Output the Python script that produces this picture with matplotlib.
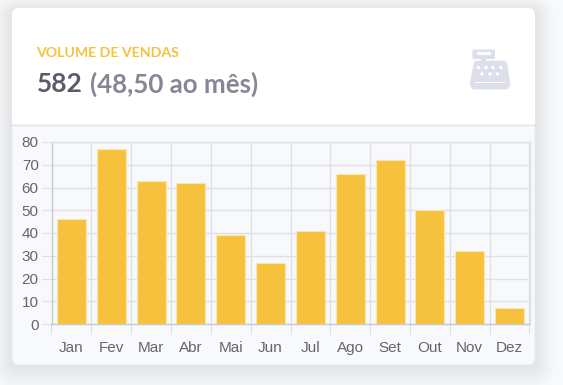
import matplotlib
matplotlib.use("Agg")
import matplotlib.pyplot as plt
from matplotlib.patches import FancyBboxPatch, Rectangle, Polygon, Circle

months = ["Jan","Fev","Mar","Abr","Mai","Jun","Jul","Ago","Set","Out","Nov","Dez"]
sales = [46,77,63,62,39,27,41,66,72,50,32,7]
y_ticks = [0,10,20,30,40,50,60,70,80]

W, H = 563, 385
fig = plt.figure(figsize=(W/100, H/100), dpi=100, facecolor="#f8f9fb")
bg = fig.add_axes([0,0,1,1], zorder=0)
bg.set_xlim(0,W); bg.set_ylim(H,0); bg.axis("off")

# card shadow
for i in range(20, 0, -1):
    bg.add_patch(FancyBboxPatch((12-i, 10-i*0.7), 523+2*i, 357+2*i*0.9, boxstyle="round,pad=0,rounding_size=%g" % (6+i),
                                fc="#c9cbd8", ec="none", alpha=0.016))
# card body
body = FancyBboxPatch((12,8),523,357, boxstyle="round,pad=0,rounding_size=7", fc="#f8f9fd", ec="#e8e9ef", lw=0.7)
bg.add_patch(body)
header = Rectangle((12,8),523,116, fc="white", ec="none")
header.set_clip_path(body)
bg.add_patch(header)
bg.plot([12,535],[124.5,124.5], color="#e3e5ec", lw=1)

head_font = ["Lato","Open Sans","DejaVu Sans"]
bg.text(36.5, 53, "VOLUME DE VENDAS", color="#f6c23e", fontsize=10.2, fontweight="bold",
        family=head_font, va="center", ha="left")
bg.text(36.5, 84.5, "582", color="#5a5c69", fontsize=19, fontweight="bold",
        family=head_font, va="center", ha="left")
bg.text(89.5, 84.5, "(48,50 ao mês)", color="#858796", fontsize=18.6, fontweight="bold",
        family=head_font, va="center", ha="left")

# cash register icon
ic = "#dddfeb"
bg.add_patch(FancyBboxPatch((472.5,49.5),22.5,9.5, boxstyle="round,pad=0,rounding_size=1.5", fc=ic, ec="none"))
bg.add_patch(Rectangle((477,52.3),14,2.2, fc="white", ec="none"))
bg.add_patch(Rectangle((481,59),5,3, fc=ic, ec="none"))
bg.add_patch(Polygon([[474,64],[476,61],[505,61],[507,64],[510,85],[507,89],[473,89],[470,85]], closed=True, fc=ic, ec=ic, lw=0.5))
for cx in [478.5,486,493,501]:
    bg.add_patch(Circle((cx,67.5),1.7, fc="white", ec="none"))
for cx in [482,490,497.5]:
    bg.add_patch(Circle((cx,74),1.7, fc="white", ec="none"))
bg.add_patch(Rectangle((475,81.5),30,1.8, fc="white", ec="none"))

# chart
L, R, T, B = 51.5, 529.5, 142.0, 324.0
ax = fig.add_axes([L/W, 1-B/H, (R-L)/W, (B-T)/H], zorder=2)
ax.patch.set_alpha(0)
x = list(range(len(months)))
ax.bar(x, sales, width=0.725, color="#f6c23e", edgecolor="#fbe6ae", linewidth=0.8, zorder=3)
ax.set_xlim(-0.5, 11.5)
ax.set_ylim(0, 80)
ax.set_yticks(y_ticks)
ax.set_xticks(x)
ax.set_xticklabels(months)
ax.set_xticks([i-0.5 for i in range(13)], minor=True)
ax.grid(True, axis="y", color="#dfe0e5", lw=1, zorder=1)
ax.grid(True, axis="x", which="minor", color="#dfe0e5", lw=1, zorder=1)
ax.grid(False, axis="x", which="major")
for s in ax.spines.values():
    s.set_color("#dfe0e5"); s.set_linewidth(1)
ax.spines["bottom"].set_color("#c8c9cf")
ax.spines["left"].set_color("#c8c9cf")
ax.tick_params(axis="y", length=7.2, width=0.75, color="#dfe0e5", labelsize=11, labelcolor="#666666", pad=2,
               labelfontfamily="Liberation Sans")
ax.tick_params(axis="x", which="major", length=0, labelsize=11, labelcolor="#666666", pad=12.5,
               labelfontfamily="Liberation Sans")
ax.tick_params(axis="x", which="minor", length=7.2, width=0.75, color="#dfe0e5")
fig.savefig("out.png", dpi=100, facecolor=fig.get_facecolor())
